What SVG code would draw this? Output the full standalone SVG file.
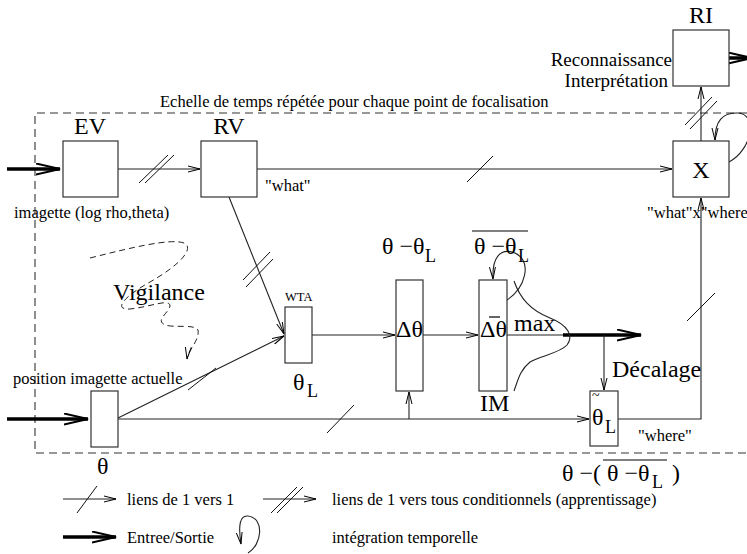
<svg xmlns="http://www.w3.org/2000/svg" width="747" height="554" viewBox="0 0 747 554">
<style>
text{font-family:"Liberation Serif","Times New Roman",serif;fill:#000}
.box{fill:#fff;stroke:#333;stroke-width:1.2}
.ln{fill:none;stroke:#222;stroke-width:1.1}
.thick{fill:none;stroke:#000;stroke-width:3.5}
.sl{fill:none;stroke:#111;stroke-width:1}
.big{font-size:24px}
.sub{font-size:18px}
.sm{font-size:16.5px}
</style>
<defs>
<marker id="a" markerWidth="14" markerHeight="8" refX="12" refY="4" orient="auto" markerUnits="userSpaceOnUse"><path d="M0,1 L12,4 L0,7" fill="none" stroke="#000" stroke-width="1"/></marker>
<marker id="A" markerWidth="26" markerHeight="13" refX="24" refY="6" orient="auto" markerUnits="userSpaceOnUse"><path d="M0,0.5 L24,6 L0,11.5" fill="none" stroke="#000" stroke-width="2"/></marker>
</defs>
<rect width="747" height="554" fill="#fff"/>

<!-- frame -->
<path d="M747,113 H35 V453 H747" fill="none" stroke="#333" stroke-width="1.1" stroke-dasharray="8,5"/>
<text x="160" y="107" class="sm">Echelle de temps répétée pour chaque point de focalisation</text>

<g id="connectors">
<path class="thick" d="M7,169 H60" marker-end="url(#A)"/>
<path class="thick" d="M7,419 H88" marker-end="url(#A)"/>
<path class="ln" d="M118,169 H200" marker-end="url(#a)"/>
<path class="sl" d="M139,183 L168,155 M145,183 L174,155"/>
<path class="ln" d="M257,169 H672" marker-end="url(#a)"/>
<path class="sl" d="M467,182 L493,156"/>
<path class="ln" d="M701,141 V87" marker-end="url(#a)"/>
<path class="sl" d="M685,125 L712,97 M690,129 L717,101"/>
<path class="thick" d="M702,58 H752" marker-end="url(#A)"/>
<path class="ln" d="M729,162 C752,150 758,114 738,113 C722,112 715,122 715,140" marker-end="url(#a)"/>
<path class="ln" d="M229,197 L284,334" marker-end="url(#a)"/>
<path class="sl" d="M243,280 L270,252 M246,287 L273,259"/>
<path class="ln" d="M118,418 L284,336" marker-end="url(#a)"/>
<path class="sl" d="M188,390 L216,368"/>
<path class="ln" d="M118,419 H589" marker-end="url(#a)"/>
<path class="sl" d="M327,433 L354,405"/>
<path class="ln" d="M409,419 V392" marker-end="url(#a)"/>
<path class="ln" d="M312,335 H395" marker-end="url(#a)"/>
<path class="ln" d="M423,335 H478" marker-end="url(#a)"/>
<path class="ln" d="M507,335 H564"/>
<path class="thick" d="M563,335 H641" marker-end="url(#A)"/>
<path class="ln" d="M604,335 V390" marker-end="url(#a)"/>
<path class="ln" d="M507,300 C525,288 533,262 515,253 C500,247 492,258 493,279" marker-end="url(#a)"/>
<path class="ln" d="M514,281 C520,298 530,310 550,318 C568,325 574,336 567,345 C560,353 540,356 530,362 C520,370 518,380 514,391"/>
<path class="ln" d="M618,419 H701 V198" marker-end="url(#a)"/>
<path class="sl" d="M687,321 L715,293"/>
<path d="M90,258 C130,248 170,238 184,243 C195,248 180,265 150,282 C125,296 112,310 130,309 C150,307 170,298 170,306 C168,314 155,320 165,325 C175,328 195,324 198,330 C200,340 188,350 187,359" fill="none" stroke="#222" stroke-width="1" stroke-dasharray="6,4" marker-end="url(#a)"/>
</g>

<g id="EV"><rect class="box" x="63" y="141" width="55" height="56"/><text x="90" y="134" class="big" text-anchor="middle">EV</text></g>
<g id="RV"><rect class="box" x="201" y="141" width="56" height="56"/><text x="229" y="134" class="big" text-anchor="middle">RV</text><text x="265" y="191" class="sm">"what"</text></g>
<g id="RI"><rect class="box" x="673" y="30" width="56" height="56"/><text x="701" y="23" class="big" text-anchor="middle">RI</text>
<text x="672" y="66" font-size="19" text-anchor="end">Reconnaissance</text><text x="668" y="87" font-size="19" text-anchor="end">Interprétation</text></g>
<g id="X"><rect class="box" x="673" y="141" width="56" height="56"/><text x="701" y="178" class="big" text-anchor="middle">X</text><text x="647" y="218" class="sm">"what"x"where</text></g>
<g id="imagette"><text x="14" y="218" class="sm">imagette (log rho,theta)</text></g>
<g id="vigilance"><text x="113" y="300" class="big">Vigilance</text></g>
<g id="WTA"><rect class="box" x="285" y="307" width="27" height="56"/><text x="285" y="301" font-size="12.5">WTA</text>
<text x="293" y="390" class="big">θ</text><text x="307" y="397" class="sub">L</text></g>
<g id="theta"><rect class="box" x="91" y="391" width="27" height="56"/><text x="13" y="384" class="sm">position imagette actuelle</text><text x="97" y="474" class="big">θ</text></g>
<g id="dtheta"><rect class="box" x="396" y="280" width="27" height="111"/><text x="409.5" y="337" class="big" text-anchor="middle">Δθ</text>
<text x="382" y="254" class="big">θ −θ</text><text x="425" y="262" class="sub">L</text></g>
<g id="IM"><rect class="box" x="479" y="280" width="28" height="111"/><text x="493.5" y="337" class="big" text-anchor="middle">Δθ</text>
<line x1="489" y1="317" x2="500" y2="317" stroke="#000" stroke-width="1.2"/>
<text x="474" y="254" class="big">θ −θ</text><text x="518" y="262" class="sub">L</text>
<line x1="472" y1="231" x2="528" y2="231" stroke="#000" stroke-width="1.2"/>
<text x="514" y="331" class="big">max</text><text x="480" y="411" class="big">IM</text></g>
<g id="thetaLtilde"><rect class="box" x="590" y="391" width="28" height="55"/><text x="592" y="425" class="big">θ</text><text x="592" y="400" font-size="14">~</text><text x="605" y="433" class="sub">L</text>
<text x="612" y="377" class="big">Décalage</text><text x="638" y="441" class="sm">"where"</text>
<text x="562" y="481" class="big">θ −( θ −θ</text><text x="652" y="488" class="sub">L</text><text x="672" y="481" class="big">)</text>
<line x1="603" y1="460" x2="667" y2="460" stroke="#000" stroke-width="1.2"/></g>

<g id="legend">
<path class="ln" d="M63,499 H116" marker-end="url(#a)"/><path class="sl" d="M77,513 L97,486"/>
<text x="127" y="505" class="sm">liens de 1 vers 1</text>
<path class="ln" d="M263,499 H316" marker-end="url(#a)"/><path class="sl" d="M271,513 L297,487 M277,513 L303,487"/>
<text x="332" y="505" class="sm">liens de 1 vers tous conditionnels (apprentissage)</text>
<path class="thick" d="M63,537 H116" marker-end="url(#A)"/>
<text x="127" y="543" class="sm">Entree/Sortie</text>
<path class="ln" d="M248,553 C262,545 265,518 248,516 C240,515 238,525 241,544" marker-end="url(#a)"/>
<text x="332" y="543" class="sm">intégration temporelle</text>
</g>
</svg>
